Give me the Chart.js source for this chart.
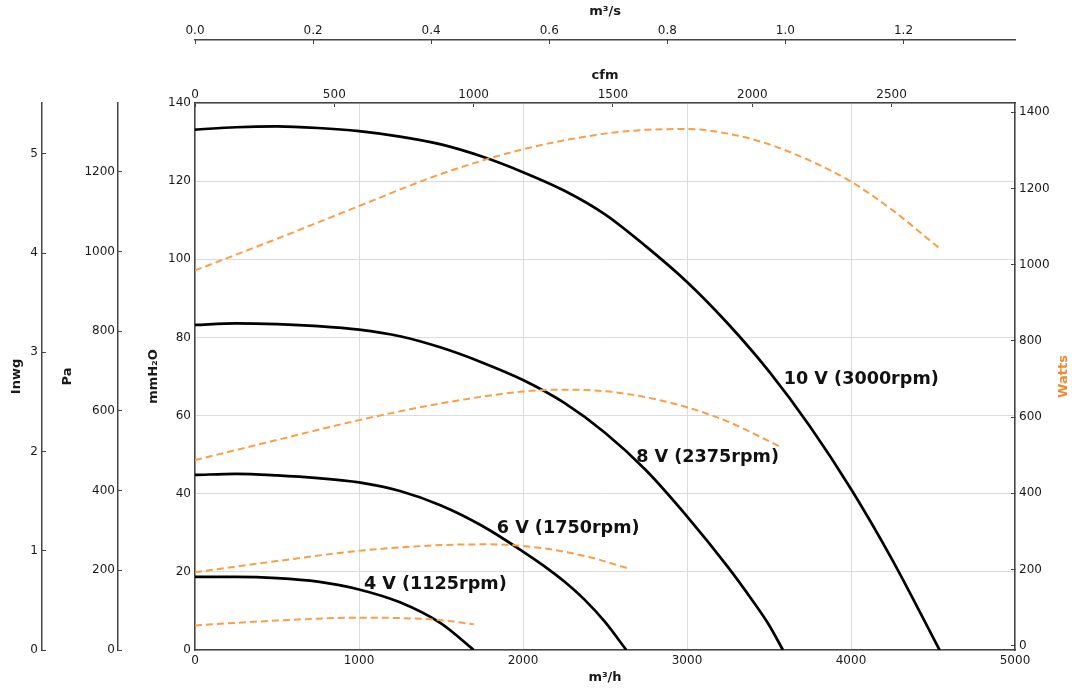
<!DOCTYPE html>
<html>
<head>
<meta charset="utf-8">
<title>Fan curves</title>
<script src="https://cdn.jsdelivr.net/npm/chart.js@4.4.1/dist/chart.umd.min.js"></script>
<style>
  html, body { margin: 0; padding: 0; background: #fff; }
  #wrap { width: 1072px; height: 689px; position: relative; }
</style>
</head>
<body>
<div id="wrap"><canvas id="fanChart"></canvas></div>
<script>
// Pressure curves (mmH2O) against flow (m³/h)
const flow4 = [0, 250, 500, 750, 1000, 1250, 1500, 1700];
const pres4 = [18.7, 18.7, 18.4, 17.5, 15.5, 12.2, 6.8, 0];
const flow6 = [0, 250, 500, 750, 1000, 1250, 1500, 1750, 2000, 2125, 2250, 2375, 2500, 2630];
const pres6 = [44.8, 45.1, 44.7, 44.0, 42.9, 40.7, 37.0, 31.8, 25.2, 21.6, 17.6, 12.9, 7.2, 0];
const flow8 = [0, 250, 500, 750, 1000, 1250, 1500, 1750, 2000, 2250, 2500, 2750, 3000, 3250, 3400, 3500, 3585];
const pres8 = [83.2, 83.6, 83.4, 82.9, 82.0, 80.3, 77.4, 73.6, 69.1, 63.3, 55.6, 46.0, 34.2, 21.2, 12.6, 6.4, 0];
const flow10 = [0, 250, 500, 750, 1000, 1250, 1500, 1750, 2000, 2250, 2500, 2750, 3000, 3250, 3500, 3750, 4000, 4250, 4540];
const pres10 = [133.2, 133.8, 134.0, 133.6, 132.8, 131.4, 129.4, 126.3, 122.3, 117.6, 111.5, 103.3, 94.2, 83.5, 71.3, 57.2, 41.2, 23.2, 0];

// Power curves (Watts) against flow (m³/h)
const pflow4 = [0, 250, 500, 750, 1000, 1250, 1500, 1700];
const power4 = [53, 60, 66, 71, 73.5, 72.5, 67, 56];
const pflow6 = [0, 500, 1000, 1500, 1800, 2100, 2400, 2640];
const power6 = [193, 222, 249, 264, 266, 257, 233, 203];
const pflow8 = [0, 500, 1000, 1500, 2000, 2250, 2500, 2750, 3000, 3250, 3570];
const power8 = [487, 540, 592, 636, 667, 672, 668, 652, 626, 588, 522];
const pflow10 = [0, 500, 1000, 1500, 2000, 2500, 2750, 3000, 3250, 3500, 3750, 4000, 4250, 4540];
const power10 = [985, 1068, 1154, 1238, 1303, 1344, 1354, 1356, 1344, 1316, 1273, 1218, 1144, 1043];

// Curve names and where their labels sit (m³/h, mmH2O)
const curveNames = ['4 V (1125rpm)', '6 V (1750rpm)', '8 V (2375rpm)', '10 V (3000rpm)'];
const labelFlow = [1030, 1840, 2690, 3590];
const labelPres = [16.7, 31.2, 49.2, 69.3];

// Tick labels
const flowTicks = [0, 1000, 2000, 3000, 4000, 5000];
const cfmTicks = [0, 500, 1000, 1500, 2000, 2500];
const msTicks = [0, 0.2, 0.4, 0.6, 0.8, 1.0, 1.2];
const mmTicks = [0, 20, 40, 60, 80, 100, 120, 140];
const paTicks = [0, 200, 400, 600, 800, 1000, 1200];
const inwgTicks = [0, 1, 2, 3, 4, 5];
const wattTicks = [0, 200, 400, 600, 800, 1000, 1200, 1400];

const FLOW_MAX = 5000;
const MM_MAX = 140;
const textColor = '#1a1a1a';
const axisColor = '#444';
const gridColor = '#dcdcdc';
const orange = '#f7a048';

function pts(xs, ys) {
    return xs.map((x, i) => ({ x: x, y: ys[i] }));
}

function fixedTicks(list) {
    return function(scale) {
        scale.ticks = list.map(v => ({ value: v }));
    };
}

const plain = v => String(v);
const tickFont = { family: 'DejaVu Sans', size: 12 };
const titleFont = { family: 'DejaVu Sans', size: 13, weight: 'bold' };

function pressureSet(xs, ys) {
    return {
        data: pts(xs, ys), xAxisID: 'x', yAxisID: 'y',
        borderColor: '#000', borderWidth: 2.7, pointRadius: 0,
        cubicInterpolationMode: 'monotone', fill: false
    };
}

function powerSet(xs, ys) {
    return {
        data: pts(xs, ys), xAxisID: 'x', yAxisID: 'w',
        borderColor: orange, borderWidth: 2, borderDash: [7, 4], pointRadius: 0,
        cubicInterpolationMode: 'monotone', fill: false
    };
}

// Curve names and the Watts title (reads bottom-to-top)
const annotate = {
    id: 'annotate',
    afterDatasetsDraw(chart) {
        const ctx = chart.ctx;
        const sx = chart.scales.x, sy = chart.scales.y, sw = chart.scales.w;
        ctx.save();
        ctx.fillStyle = '#111';
        ctx.font = 'bold 17.6px "DejaVu Sans"';
        ctx.textAlign = 'left';
        ctx.textBaseline = 'middle';
        curveNames.forEach((name, i) => {
            ctx.fillText(name, sx.getPixelForValue(labelFlow[i]), sy.getPixelForValue(labelPres[i]));
        });
        ctx.translate(sw.right - 8, (sw.top + sw.bottom) / 2);
        ctx.rotate(-Math.PI / 2);
        ctx.textAlign = 'center';
        ctx.fillStyle = '#f08a2c';
        ctx.font = 'bold 13px "DejaVu Sans"';
        ctx.fillText('Watts', 0, 0);
        ctx.restore();
    }
};

function sideAxis(opts) {
    return Object.assign({
        type: 'linear',
        grid: { drawOnChartArea: false, drawTicks: true, tickLength: -4, color: axisColor },
        border: { color: axisColor, width: 1.5 },
        ticks: { color: textColor, font: tickFont, padding: 8, callback: plain }
    }, opts);
}

new Chart(document.getElementById('fanChart'), {
    type: 'line',
    data: {
        datasets: [
            powerSet(pflow4, power4),
            powerSet(pflow6, power6),
            powerSet(pflow8, power8),
            powerSet(pflow10, power10),
            pressureSet(flow4, pres4),
            pressureSet(flow6, pres6),
            pressureSet(flow8, pres8),
            pressureSet(flow10, pres10)
        ]
    },
    options: {
        responsive: true,
        maintainAspectRatio: false,
        animation: false,
        layout: { padding: 0 },
        plugins: { legend: { display: false }, tooltip: { enabled: false } },
        scales: {
            x: {
                type: 'linear', position: 'bottom', min: 0, max: FLOW_MAX, weight: 0,
                afterBuildTicks: fixedTicks(flowTicks),
                afterFit: s => { s.height = 39; },
                grid: { color: gridColor, drawTicks: false },
                border: { color: axisColor, width: 1.5 },
                ticks: { color: textColor, font: tickFont, padding: 4, maxRotation: 0, callback: plain },
                title: { display: true, text: 'm³/h', color: textColor, font: titleFont, padding: { top: 0, bottom: 4 } }
            },
            cfm: sideAxis({
                position: 'top', min: 0, max: FLOW_MAX / 1.699, weight: 0,
                afterBuildTicks: fixedTicks(cfmTicks),
                afterFit: s => { s.height = 63; },
                ticks: { color: textColor, font: tickFont, padding: 5, maxRotation: 0, callback: plain },
                title: { display: true, text: 'cfm', color: textColor, font: titleFont, padding: { top: 28, bottom: 0 } }
            }),
            ms: sideAxis({
                position: 'top', min: 0, max: FLOW_MAX / 3600, weight: 1,
                afterBuildTicks: fixedTicks(msTicks),
                afterFit: s => { s.height = 40; },
                ticks: { color: textColor, font: tickFont, padding: 6, maxRotation: 0, callback: v => v.toFixed(1) },
                title: { display: true, text: 'm³/s', color: textColor, font: titleFont, padding: { top: 4, bottom: 0 } }
            }),
            y: {
                type: 'linear', position: 'left', min: 0, max: MM_MAX, weight: 0,
                afterBuildTicks: fixedTicks(mmTicks),
                afterFit: s => { s.width = 77; },
                grid: { color: gridColor, drawTicks: true, tickLength: -4 },
                border: { color: axisColor, width: 1.5 },
                ticks: { color: textColor, font: tickFont, padding: 8, callback: plain },
                title: { display: true, text: 'mmH₂O', color: textColor, font: titleFont, padding: { top: 28, bottom: 0 } }
            },
            pa: sideAxis({
                position: 'left', min: 0, max: MM_MAX * 9.80665, weight: 1,
                afterBuildTicks: fixedTicks(paTicks),
                afterFit: s => { s.width = 76; },
                ticks: { color: textColor, font: tickFont, padding: 7, callback: plain },
                title: { display: true, text: 'Pa', color: textColor, font: titleFont, padding: { top: 18, bottom: 0 } }
            }),
            inwg: sideAxis({
                position: 'left', min: 0, max: MM_MAX / 25.4, weight: 2,
                afterBuildTicks: fixedTicks(inwgTicks),
                afterFit: s => { s.width = 42; },
                ticks: { color: textColor, font: tickFont, padding: 8, callback: plain },
                title: { display: true, text: 'Inwg', color: textColor, font: titleFont, padding: { top: 9, bottom: 0 } }
            }),
            w: sideAxis({
                position: 'right', min: -11.3, max: 1424.4, weight: 0,
                afterBuildTicks: fixedTicks(wattTicks),
                afterFit: s => { s.width = 57; }
            })
        }
    },
    plugins: [annotate]
});
</script>
</body>
</html>
